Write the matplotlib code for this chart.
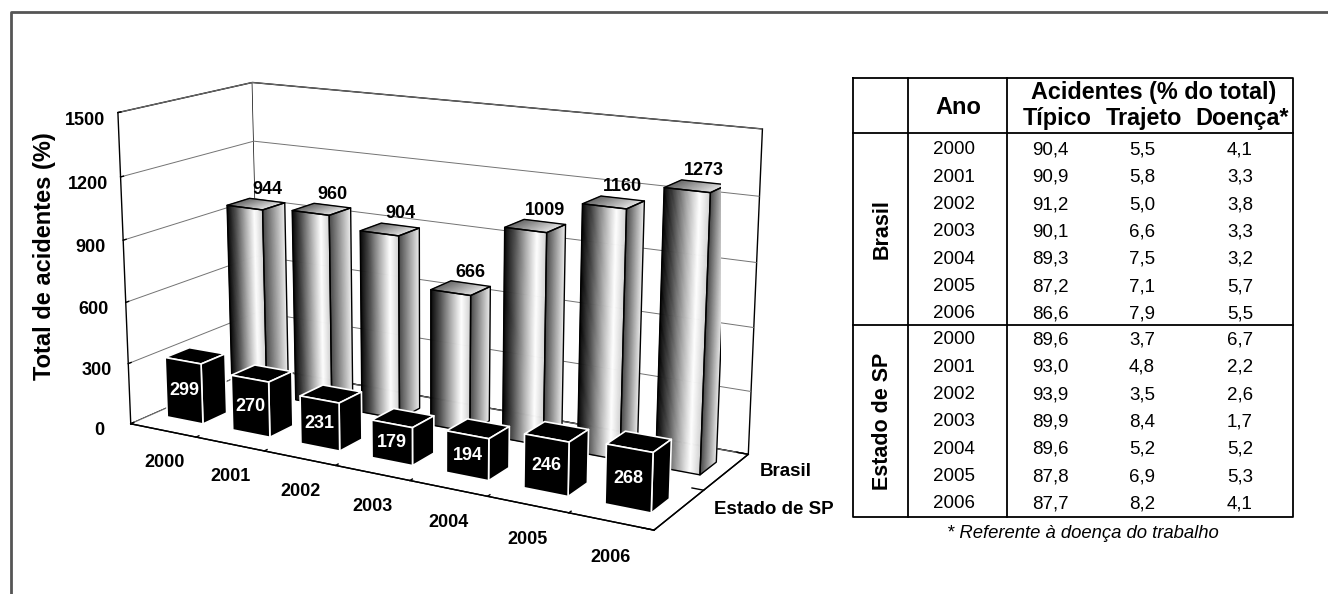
import numpy as np
import matplotlib.pyplot as plt
from mpl_toolkits.mplot3d.art3d import Poly3DCollection

plt.rcParams['font.family'] = ['Liberation Sans', 'DejaVu Sans']

anos = ['2000', '2001', '2002', '2003', '2004', '2005', '2006']
series = ['Estado de SP', 'Brasil']
total_sp = [299, 270, 231, 179, 194, 246, 268]
total_brasil = [944, 960, 904, 666, 1009, 1160, 1273]
z_ticks = [0, 300, 600, 900, 1200, 1500]

# tabela (% do total)
tipico_br = [90.4, 90.9, 91.2, 90.1, 89.3, 87.2, 86.6]
trajeto_br = [5.5, 5.8, 5.0, 6.6, 7.5, 7.1, 7.9]
doenca_br = [4.1, 3.3, 3.8, 3.3, 3.2, 5.7, 5.5]
tipico_sp = [89.6, 93.0, 93.9, 89.9, 89.6, 87.8, 87.7]
trajeto_sp = [3.7, 4.8, 3.5, 8.4, 5.2, 6.9, 8.2]
doenca_sp = [6.7, 2.2, 2.6, 1.7, 5.2, 5.3, 4.1]

BW = 0.55   # largura da barra (x)
BD = 0.36   # profundidade da barra (y)
NS = 40     # faixas do degrade


def front_gray(t):
    return np.interp(t, [0, 0.25, 0.5, 0.78, 1.0], [0.0, 0.3, 0.65, 1.0, 0.82])


def side_gray(t):
    return np.interp(t, [0, 1.0], [0.3, 0.95])


def top_gray(t):
    return np.interp(t, [0, 1.0], [0.4, 0.88])


def bar_faces(xc, yc, h):
    x0, x1 = xc - BW / 2, xc + BW / 2
    y0, y1 = yc - BD / 2, yc + BD / 2
    front = [(x0, y0, 0), (x1, y0, 0), (x1, y0, h), (x0, y0, h)]
    side = [(x1, y0, 0), (x1, y1, 0), (x1, y1, h), (x1, y0, h)]
    top = [(x0, y0, h), (x1, y0, h), (x1, y1, h), (x0, y1, h)]
    return x0, x1, y0, y1, front, side, top


def gradient_bar(ax, xc, yc, h):
    x0, x1, y0, y1, front, side, top = bar_faces(xc, yc, h)
    polys, cols = [], []
    ts = np.linspace(0, 1, NS + 1)
    for k in range(NS):
        a = x0 + ts[k] * (x1 - x0)
        b = x0 + ts[k + 1] * (x1 - x0)
        tm = (ts[k] + ts[k + 1]) / 2
        polys.append([(a, y0, 0), (b, y0, 0), (b, y0, h), (a, y0, h)])
        cols.append(str(front_gray(tm)))
        polys.append([(a, y0, h), (b, y0, h), (b, y1, h), (a, y1, h)])
        cols.append(str(top_gray(tm)))
        c = y0 + ts[k] * (y1 - y0)
        d = y0 + ts[k + 1] * (y1 - y0)
        polys.append([(x1, c, 0), (x1, d, 0), (x1, d, h), (x1, c, h)])
        cols.append(str(side_gray(tm)))
    pc = Poly3DCollection(polys, facecolors=cols, edgecolors=cols, linewidths=0.5)
    ax.add_collection3d(pc)
    out = Poly3DCollection([front, side, top], facecolors=(0, 0, 0, 0),
                           edgecolors='black', linewidths=1.0)
    ax.add_collection3d(out)


def black_box(ax, xc, yc, h):
    x0, x1, y0, y1, front, side, top = bar_faces(xc, yc, h)
    pc = Poly3DCollection([front, side, top], facecolors='black',
                          edgecolors='white', linewidths=1.2)
    ax.add_collection3d(pc)


fig = plt.figure(figsize=(13.28, 5.94), dpi=100)
ax = fig.add_axes([-0.0105, 0.010, 0.66, 1.0], projection='3d', computed_zorder=False)
ax.set_proj_type('persp', focal_length=0.6)
ax.view_init(elev=14.5, azim=-60)
ax.set_box_aspect((2.8, 1.1, 1.55), zoom=1.172)

ax.set_xlim(-0.5, 6.5)
ax.set_ylim(-0.5, 1.5)
ax.set_zlim(0, 1500)

for axis in (ax.xaxis, ax.yaxis, ax.zaxis):
    axis.set_pane_color((1, 1, 1, 1))
    axis.pane.set_edgecolor('black')
    axis.pane.set_linewidth(1.0)
    axis.line.set_color('black')
    axis.line.set_linewidth(1.0)
    axis._axinfo['tick']['inward_factor'] = 0.0
    axis._axinfo['tick']['outward_factor'] = 0.25
    axis._axinfo['tick']['linewidth'] = {True: 1.0, False: 0.8}
    axis.label.set_visible(False)
    axis.offsetText.set_visible(False)
ax.xaxis._axinfo['grid']['color'] = (1, 1, 1, 0)
ax.yaxis._axinfo['grid']['color'] = (1, 1, 1, 0)
ax.zaxis._axinfo['grid']['color'] = (0.45, 0.45, 0.45, 1)
ax.zaxis._axinfo['grid']['linewidth'] = 0.7
ax.zaxis.set_ticks_position('lower')

ax.set_xticks(np.arange(len(anos) + 1) - 0.5)
ax.set_xticklabels([])
ax.set_yticks([-0.5, 0.5, 1.5])
ax.set_yticklabels([])
ax.set_zticks(z_ticks)
ax.set_zticklabels([str(v) for v in z_ticks])
ax.tick_params(axis='z', pad=4, labelsize=13)
for lbl in ax.get_zticklabels():
    lbl.set_fontweight('bold')

# barras: fileira de tras (Brasil) primeiro
for i, v in enumerate(total_brasil):
    gradient_bar(ax, i, 1, v)
    ax.text(i, 1 + BD / 2, v + 15, str(v), ha='center', va='bottom',
            fontsize=13, fontweight='bold')
for i, v in enumerate(total_sp):
    black_box(ax, i, 0, v)
    ax.text(i, -BD / 2, v / 2, str(v), ha='center', va='center',
            fontsize=13, fontweight='bold', color='white')

for i, a in enumerate(anos):
    ax.text(i, -0.5, -160, a, ha='center', va='center',
            fontsize=13, fontweight='bold')
for j, s in enumerate(series):
    ax.text(6.9, j, 30, s, ha='left', va='center',
            fontsize=13.5, fontweight='bold')

fig.text(45 / 1328, 1 - 256 / 594, 'Total de acidentes (%)', rotation=90,
         ha='center', va='center', fontsize=17, fontweight='bold')

# tabela
tb = fig.add_axes([0.0, 0.0, 1.0, 1.0])
tb.set_xlim(0, 1328)
tb.set_ylim(594, 0)
tb.axis('off')
tb.patch.set_alpha(0)

fmt = lambda v: f'{v:.1f}'.replace('.', ',')
col_x = [954, 1050, 1142, 1240]
tl, tr, tt, tbm = 853, 1293, 78, 517
hdr_b = 133
sep = 325
lw = 1.3
tb.plot([tl, tr, tr, tl, tl], [tt, tt, tbm, tbm, tt], color='black', lw=lw)
tb.plot([tl, tr], [hdr_b, hdr_b], color='black', lw=lw)
tb.plot([tl, tr], [sep, sep], color='black', lw=lw)
tb.plot([908, 908], [tt, tbm], color='black', lw=lw)
tb.plot([1007, 1007], [tt, tbm], color='black', lw=lw)

tb.text(958, 107, 'Ano', ha='center', va='center', fontsize=17, fontweight='bold')
tb.text(1154, 92, 'Acidentes (% do total)', ha='center', va='center',
        fontsize=16.8, fontweight='bold')
for x, s in zip([1057, 1144, 1242], ['Típico', 'Trajeto', 'Doença*']):
    tb.text(x, 119, s, ha='center', va='center', fontsize=16.8, fontweight='bold')

blocos = [(tipico_br, trajeto_br, doenca_br, 150),
          (tipico_sp, trajeto_sp, doenca_sp, 340)]
for tip, tra, doe, y0 in blocos:
    for k in range(len(anos)):
        y = y0 + k * (504 - 340) / 6
        tb.text(col_x[0], y, anos[k], ha='center', va='center', fontsize=13.5)
        tb.text(col_x[1], y, fmt(tip[k]), ha='center', va='center', fontsize=13.5)
        tb.text(col_x[2], y, fmt(tra[k]), ha='center', va='center', fontsize=13.5)
        tb.text(col_x[3], y, fmt(doe[k]), ha='center', va='center', fontsize=13.5)

tb.text(882, (hdr_b + sep) / 2, 'Brasil', rotation=90, ha='center',
        va='center', fontsize=15.5, fontweight='bold')
tb.text(882, (sep + tbm) / 2, 'Estado de SP', rotation=90, ha='center',
        va='center', fontsize=15.5, fontweight='bold')
tb.text(1083, 534, '* Referente à doença do trabalho', ha='center',
        va='center', fontsize=13.3, style='italic')

# moldura
tb.plot([11, 11, 1328], [594, 12, 12], color='#555555', lw=2)

fig.savefig('out.png', dpi=100)
